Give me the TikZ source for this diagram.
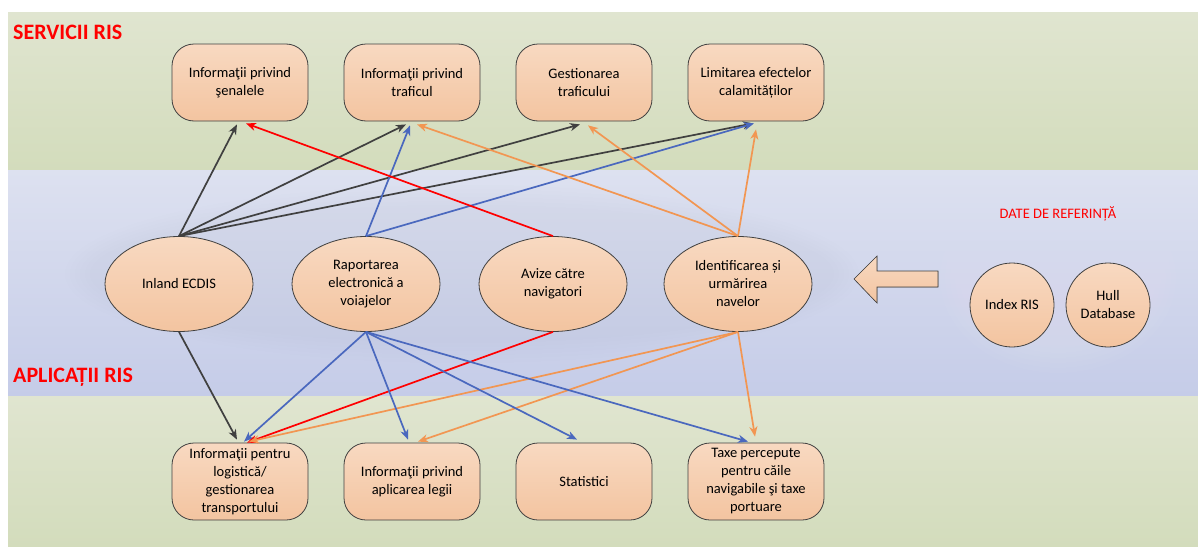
\documentclass[tikz,border=0pt]{standalone}
\usepackage{fontspec}
\setmainfont{Carlito}
\usetikzlibrary{arrows.meta,shapes.geometric,calc}

\definecolor{bandGreenTop}{RGB}{224,229,208}
\definecolor{bandGreenBot}{RGB}{211,220,188}
\definecolor{bandBlueTop}{RGB}{221,225,240}
\definecolor{bandBlueBot}{RGB}{197,204,232}
\definecolor{peachTop}{RGB}{248,217,193}
\definecolor{peachBot}{RGB}{243,196,160}
\definecolor{outline}{RGB}{64,64,64}
\definecolor{lnBlack}{RGB}{64,64,64}
\definecolor{lnBlue}{RGB}{74,104,190}
\definecolor{lnRed}{RGB}{255,0,0}
\definecolor{lnOrange}{RGB}{242,150,82}
\definecolor{titleRed}{RGB}{255,0,0}

\begin{document}
\begin{tikzpicture}[x=1pt,y=-1pt,
  txt/.style={font=\fontsize{14.5}{18}\selectfont, align=center, text=black},
  service/.style={txt, rectangle, rounded corners=22pt, draw=outline, line width=0.8pt,
    top color=peachTop, bottom color=peachBot, minimum width=136pt, minimum height=77pt, inner sep=1pt},
  app/.style={txt, ellipse, draw=outline, line width=0.8pt,
    top color=peachTop, bottom color=peachBot, minimum width=148pt, minimum height=95pt, inner sep=0pt},
  refdb/.style={app, minimum width=84pt, minimum height=84pt},
  heading/.style={font=\fontsize{22}{26}\bfseries\selectfont, text=titleRed, inner sep=0pt},
  link/.style={line width=1.7pt, -{Stealth[length=10pt,width=8pt,inset=3pt]}},
]
\useasboundingbox (0,0) rectangle (1198,546);
\fill[white] (0,0) rectangle (1198,546);

% background bands
\shade[top color=bandGreenTop, bottom color=bandGreenBot] (8,12) rectangle (1198,170);
\shade[top color=bandBlueTop, bottom color=bandBlueBot] (8,170) rectangle (1198,396);
\shade[top color=bandGreenTop, bottom color=bandGreenBot] (8,396) rectangle (1198,546);

% soft halos behind the application row and the reference data
\foreach \k in {0,...,5}{
  \fill[black!50, opacity=0.008] (462,274) ellipse ({397-5*\k} and {89-4*\k});
}
\foreach \k in {0,...,5}{
  \fill[white, opacity=0.025] (1058,278) ellipse ({118-5*\k} and {95-5*\k});
}

% headings
\node[heading, anchor=base west] (hsvc) at (13,39) {SERVICII RIS};
\node[heading, anchor=base west] (happ) at (13,382) {APLICAȚII RIS};
\node[txt, text=titleRed, anchor=base, inner sep=0pt] (href) at (1058,218) {DATE DE REFERINȚĂ};

% RIS services
\node[service] (b1) at (240,82.5) {Informaţii privind\\şenalele};
\node[service] (b2) at (412,82.5) {Informaţii privind\\traficul};
\node[service] (b3) at (584,82.5) {Gestionarea\\traficului};
\node[service] (b4) at (756,82.5) {Limitarea efectelor\\calamităților};

% RIS applications
\node[app] (e1) at (179,284) {Inland ECDIS};
\node[app] (e2) at (366,284) {Raportarea\\electronică a\\voiajelor};
\node[app] (e3) at (553,284) {Avize către\\navigatori};
\node[app] (e4) at (738,284) {Identificarea și\\urmărirea\\navelor};

% reference data
\node[refdb] (r1) at (1012,305) {Index RIS};
\node[refdb] (r2) at (1108,305) {Hull\\Database};

% block arrow towards the applications
\filldraw[draw=outline, line width=0.6pt, top color=peachTop, bottom color=peachBot]
  (854,279) -- (877,256) -- (877,271) -- (938,271) -- (938,287) -- (877,287) -- (877,303) -- cycle;

% lower row
\node[service] (c1) at (240,481.5) {Informaţii pentru\\logistică/\\gestionarea\\transportului};
\node[service] (c2) at (412,481.5) {Informaţii privind\\aplicarea legii};
\node[service] (c3) at (584,481.5) {Statistici};
\node[service] (c4) at (756,481.5) {Taxe percepute\\pentru căile\\navigabile şi taxe\\portuare};

% links up to the services
\draw[link, lnBlack] (e1.north) -- ($(b1.south)+(-3,3)$);
\draw[link, lnBlack] (e1.north) -- ($(b2.south)+(-6,3)$);
\draw[link, lnBlack] (e1.north) -- ($(b3.south)+(-4,3)$);
\draw[link, lnBlack] (e1.north) -- ($(b4.south)+(-3,2)$);
\draw[link, lnBlue] (e2.north) -- ($(b2.south)+(-2,4)$);
\draw[link, lnBlue] (e2.north) -- ($(b4.south)+(-2,2)$);
\draw[link, lnRed] (e3.north) -- ($(b1.south)+(6,2)$);
\draw[link, lnOrange] (e4.north) -- ($(b2.south)+(5,3)$);
\draw[link, lnOrange] (e4.north) -- ($(b3.south)+(4,4)$);
\draw[link, lnOrange] (e4.north) -- ($(b4.south)+(0,8)$);

% links down to the lower row
\draw[link, lnBlack] (e1.south) -- ($(c1.north)+(-3,-3)$);
\draw[link, lnBlue] (e2.south) -- ($(c1.north)+(4,-1)$);
\draw[link, lnRed] (e3.south) -- ($(c1.north)+(7,0)$);
\draw[link, lnOrange] (e4.south) -- ($(c1.north)+(9,-1)$);
\draw[link, lnBlue] (e2.south) -- ($(c2.north)+(-4,-3)$);
\draw[link, lnOrange] (e4.south) -- ($(c2.north)+(6,-1)$);
\draw[link, lnBlue] (e2.south) -- ($(c3.north)+(-7,-3)$);
\draw[link, lnBlue] (e2.south) -- ($(c4.north)+(-8,-1)$);
\draw[link, lnOrange] (e4.south) -- ($(c4.north)+(-1,-6)$);
\end{tikzpicture}
\end{document}
